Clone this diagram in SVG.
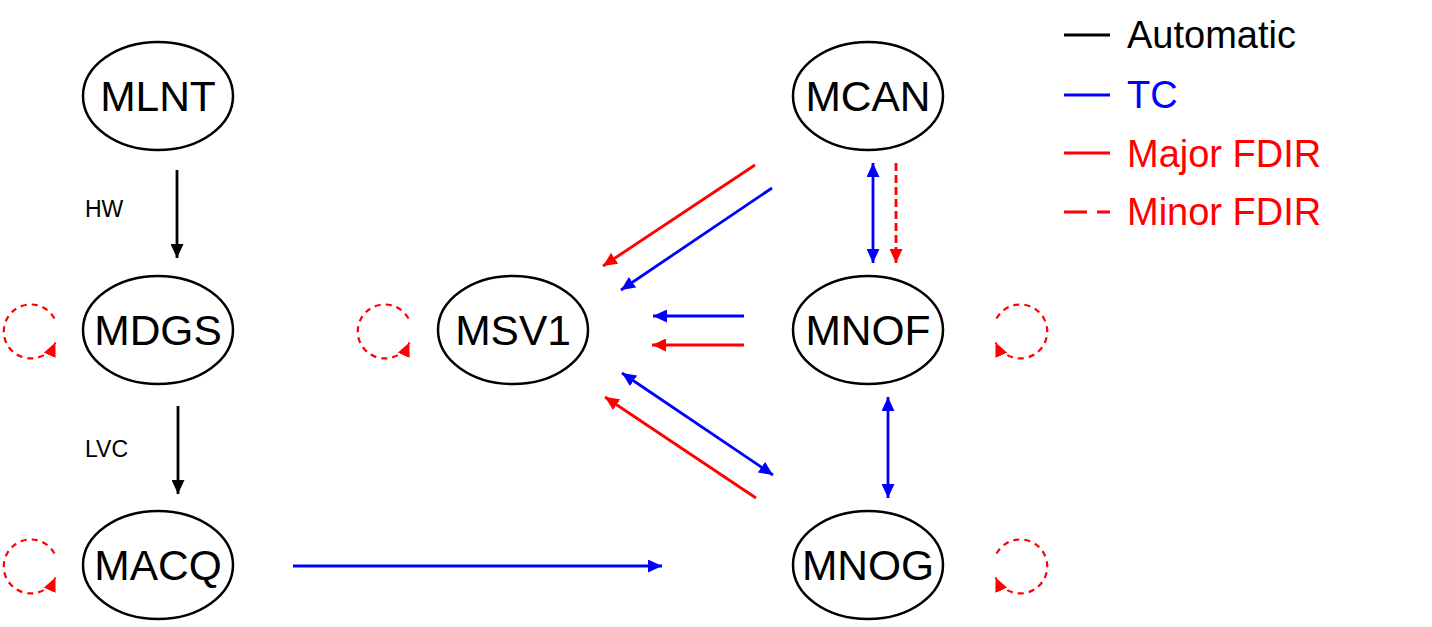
<svg xmlns="http://www.w3.org/2000/svg" width="1432" height="627" viewBox="0 0 1432 627">
<style>
.node ellipse{fill:#fff;stroke:#000;stroke-width:2.5}
.node text{font-family:"Liberation Sans",Arial,sans-serif;font-size:42.5px;text-anchor:middle;fill:#000}
.lbl{font-family:"Liberation Sans",Arial,sans-serif;font-size:23px;fill:#000}
.leg{font-family:"Liberation Sans",Arial,sans-serif;font-size:38px}
.k{stroke:#000;stroke-width:2.8;fill:none}
.b{stroke:#0000ff;stroke-width:2.8;fill:none}
.r{stroke:#ff0000;stroke-width:2.8;fill:none}
.d{stroke-dasharray:8 4}
.loop{stroke:#ff0000;stroke-width:2.2;fill:none;stroke-dasharray:6 5}
</style>
<defs>
<marker id="ak" markerUnits="userSpaceOnUse" markerWidth="14" markerHeight="13" viewBox="0 0 14 13" refX="14" refY="6.5" orient="auto-start-reverse"><path d="M0,0 L14,6.5 L0,13 z" fill="#000"/></marker>
<marker id="ab" markerUnits="userSpaceOnUse" markerWidth="14" markerHeight="13" viewBox="0 0 14 13" refX="14" refY="6.5" orient="auto-start-reverse"><path d="M0,0 L14,6.5 L0,13 z" fill="#0000ff"/></marker>
<marker id="ar" markerUnits="userSpaceOnUse" markerWidth="14" markerHeight="13" viewBox="0 0 14 13" refX="14" refY="6.5" orient="auto-start-reverse"><path d="M0,0 L14,6.5 L0,13 z" fill="#ff0000"/></marker>
</defs>

<g id="MLNT" class="node"><ellipse cx="158" cy="96" rx="75" ry="54"/><text x="158" y="111">MLNT</text></g>
<g id="MDGS" class="node"><ellipse cx="158" cy="330" rx="75" ry="54"/><text x="158" y="345">MDGS</text></g>
<g id="MACQ" class="node"><ellipse cx="158" cy="565" rx="75" ry="54"/><text x="158" y="580">MACQ</text></g>
<g id="MSV1" class="node"><ellipse cx="513" cy="330" rx="75" ry="54"/><text x="513" y="345">MSV1</text></g>
<g id="MCAN" class="node"><ellipse cx="868" cy="96" rx="75" ry="54"/><text x="868" y="111">MCAN</text></g>
<g id="MNOF" class="node"><ellipse cx="868" cy="330" rx="75" ry="54"/><text x="868" y="345">MNOF</text></g>
<g id="MNOG" class="node"><ellipse cx="868" cy="565" rx="75" ry="54"/><text x="868" y="580">MNOG</text></g>

<g id="connectors">
<line class="k" x1="177" y1="170" x2="177" y2="258" marker-end="url(#ak)"/>
<line class="k" x1="178" y1="406" x2="178" y2="494" marker-end="url(#ak)"/>
<line class="r" x1="755" y1="165" x2="603" y2="266" marker-end="url(#ar)"/>
<line class="b" x1="772" y1="188" x2="621" y2="290" marker-end="url(#ab)"/>
<line class="b" x1="744" y1="316" x2="653" y2="316" marker-end="url(#ab)"/>
<line class="r" x1="744" y1="345" x2="652" y2="345" marker-end="url(#ar)"/>
<line class="b" x1="622" y1="373" x2="773" y2="475" marker-start="url(#ab)" marker-end="url(#ab)"/>
<line class="r" x1="756" y1="498" x2="605" y2="397" marker-end="url(#ar)"/>
<line class="b" x1="873" y1="163" x2="873" y2="263" marker-start="url(#ab)" marker-end="url(#ab)"/>
<line class="r d" x1="896" y1="163" x2="896" y2="263" marker-end="url(#ar)"/>
<line class="b" x1="888" y1="397" x2="888" y2="498" marker-start="url(#ab)" marker-end="url(#ab)"/>
<line class="b" x1="293" y1="566" x2="662" y2="566" marker-end="url(#ab)"/>
<path class="loop" d="M54.5 318.6 A27 27 0 1 0 55.4 342.5" marker-end="url(#ar)"/>
<path class="loop" d="M54.5 553.6 A27 27 0 1 0 55.4 577.5" marker-end="url(#ar)"/>
<path class="loop" d="M408.5 318.6 A27 27 0 1 0 409.4 342.5" marker-end="url(#ar)"/>
<path class="loop" d="M996.5 318.6 A27 27 0 1 1 995.6 342.5" marker-end="url(#ar)"/>
<path class="loop" d="M996.5 553.6 A27 27 0 1 1 995.6 577.5" marker-end="url(#ar)"/>
</g>

<text class="lbl" x="85" y="217">HW</text>
<text class="lbl" x="85" y="457">LVC</text>

<g id="legend">
<line x1="1064" y1="35" x2="1110" y2="35" stroke="#000" stroke-width="2.8"/>
<text class="leg" x="1127" y="48" fill="#000">Automatic</text>
<line x1="1064" y1="95" x2="1110" y2="95" stroke="#0000ff" stroke-width="2.8"/>
<text class="leg" x="1127" y="108" fill="#0000ff">TC</text>
<line x1="1064" y1="153" x2="1110" y2="153" stroke="#ff0000" stroke-width="2.8"/>
<text class="leg" x="1127" y="167" fill="#ff0000">Major FDIR</text>
<line x1="1064" y1="212" x2="1110" y2="212" stroke="#ff0000" stroke-width="2.8" stroke-dasharray="23 10"/>
<text class="leg" x="1127" y="225" fill="#ff0000">Minor FDIR</text>
</g>
</svg>
